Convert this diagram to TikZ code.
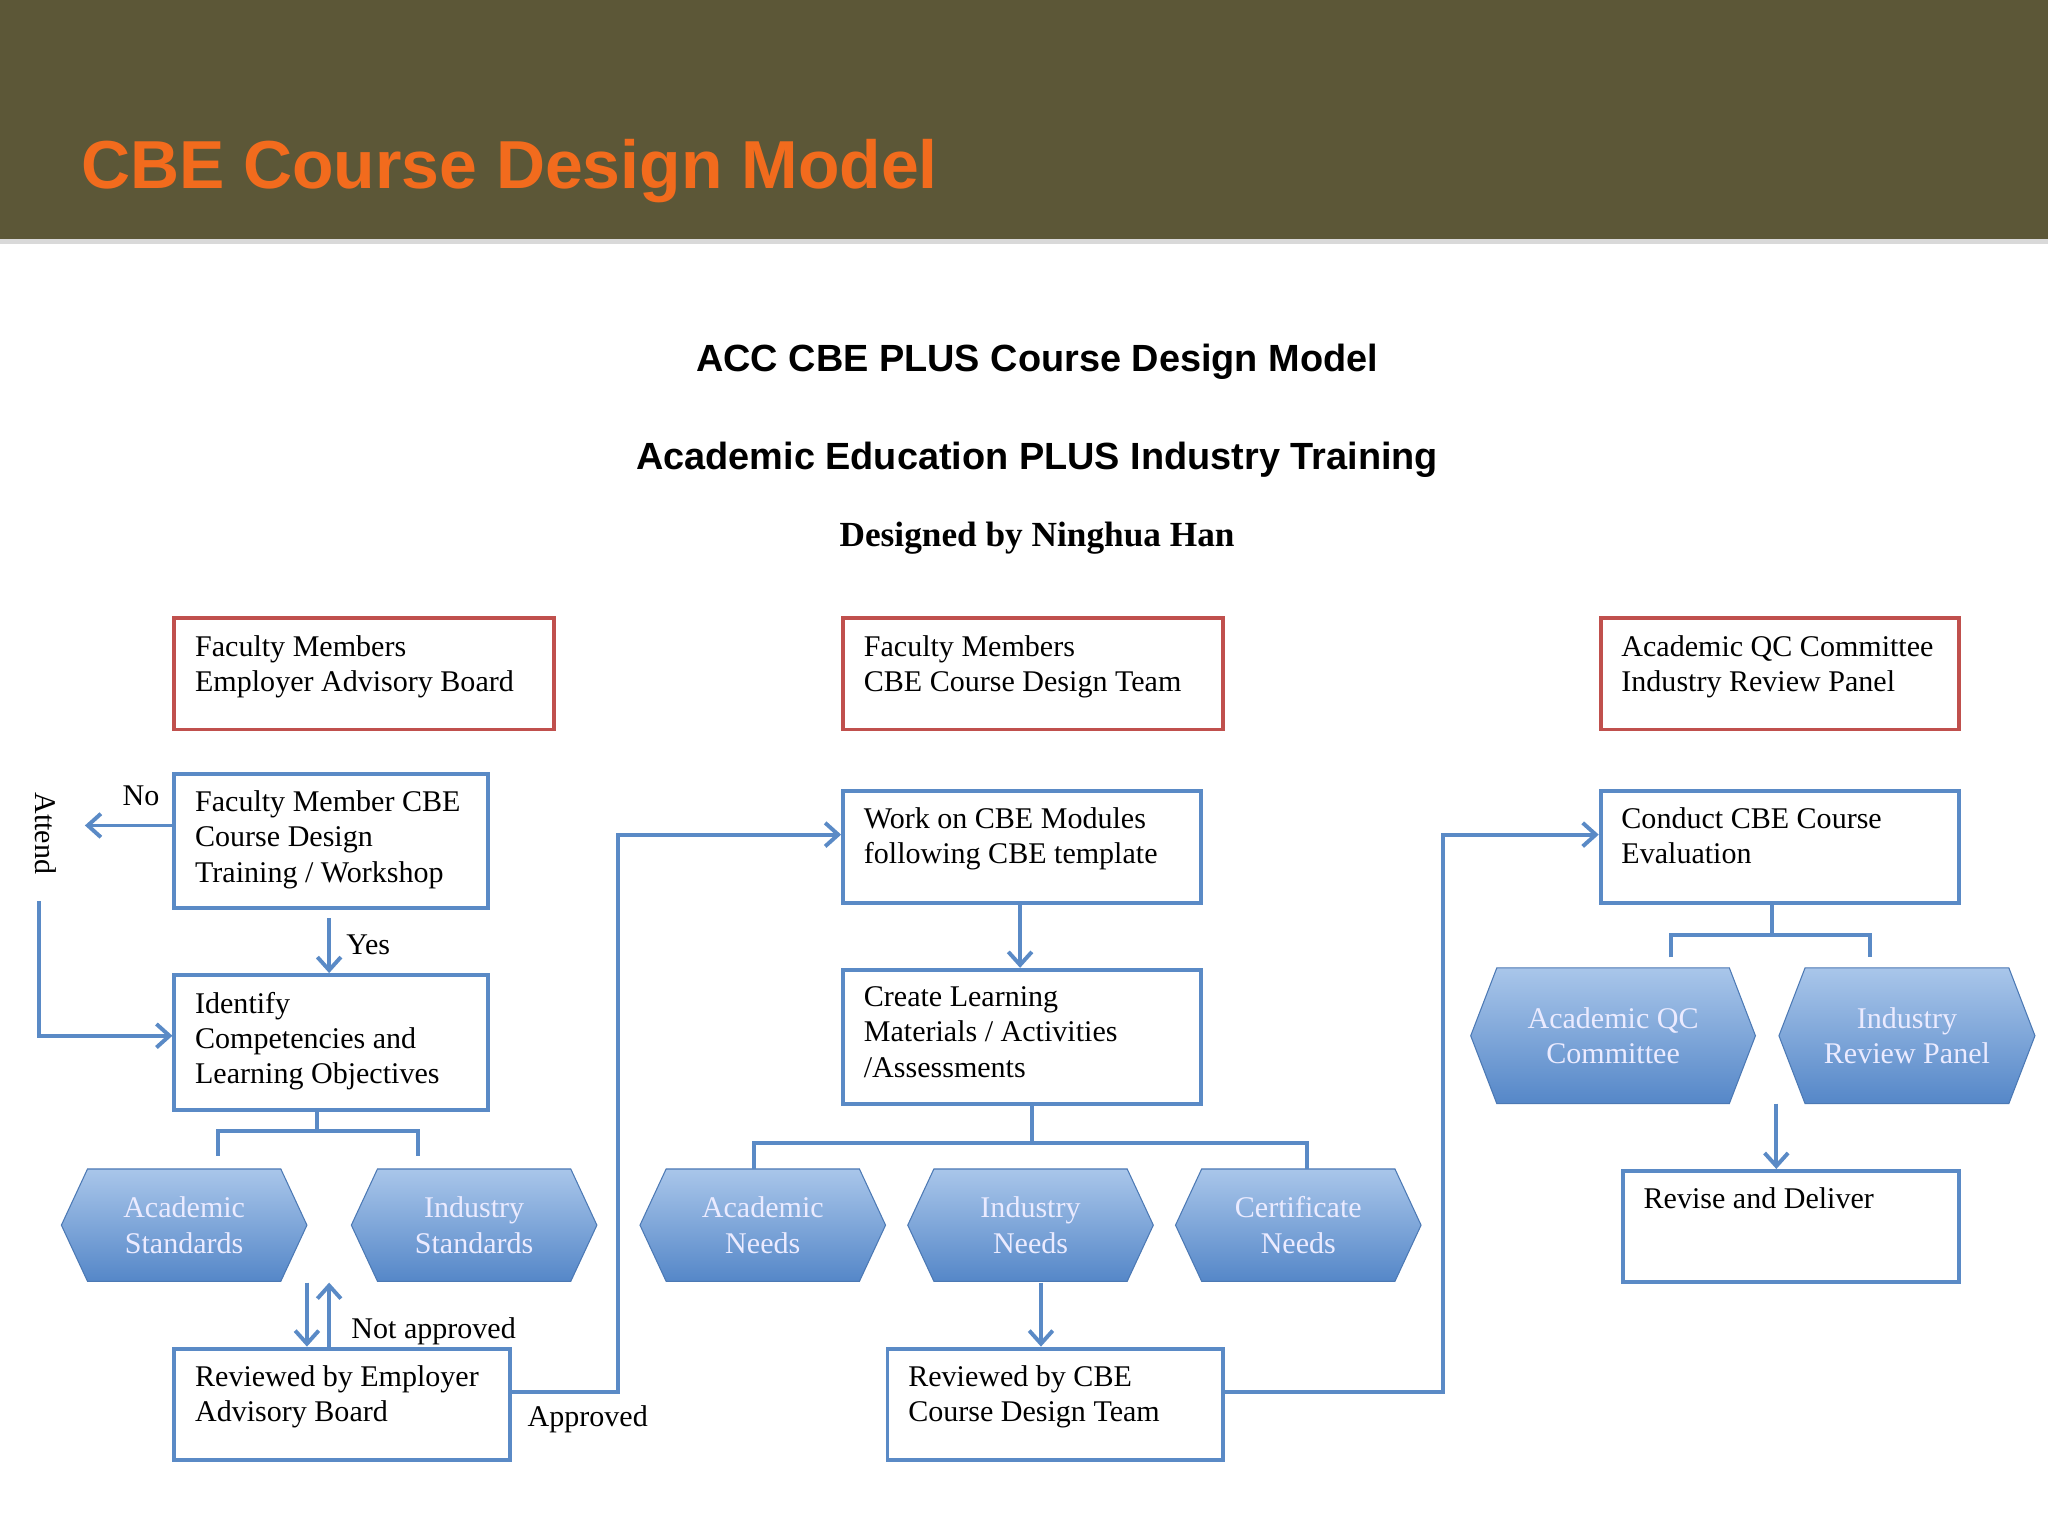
\documentclass[tikz,border=0pt]{standalone}
\usepackage{fontspec}
\setmainfont{Liberation Serif}
\setsansfont{Liberation Sans}
\usetikzlibrary{calc,arrows.meta}
\definecolor{hdr}{HTML}{5C5737}
\definecolor{ttl}{HTML}{F26B1D}
\definecolor{rbox}{HTML}{C0504D}
\definecolor{bbox}{HTML}{5A8AC6}
\definecolor{hexT}{HTML}{A9C6EA}
\definecolor{hexB}{HTML}{5587C8}
\tikzset{
  x=0.5pt,y=-0.5pt,
  txt/.style={font=\fontsize{11.5}{13.5}\selectfont,align=left,inner sep=0pt,anchor=north west},
  redbox/.style={draw=rbox,line width=1.5pt,anchor=north west,inner sep=0pt},
  bluebox/.style={draw=bbox,line width=1.5pt,anchor=north west,inner sep=0pt},
  conn/.style={draw=bbox,line width=1.5pt},
  arr/.style={conn,-{Straight Barb[length=5pt,width=9pt]}},
  hexfill/.style={top color=hexT,bottom color=hexB,draw=hexB!90!black,line width=0.4pt},
  hextxt/.style={font=\fontsize{11.5}{13.5}\selectfont,text=white!92!blue,align=center},
  lbl/.style={font=\fontsize{11.5}{13.5}\selectfont,inner sep=0pt}
}
\newcommand\hexn[6]{%
  \path[hexfill] ({#2-#4},#3) -- ({#2-#4+20},{#3-#5}) -- ({#2+#4-20},{#3-#5}) -- ({#2+#4},#3) -- ({#2+#4-20},{#3+#5}) -- ({#2-#4+20},{#3+#5}) -- cycle;
  \node[hextxt] (#1) at (#2,#3) {#6};}
\newcommand\boxn[7]{% style name x y w h text
  \node[#1,minimum width=#5*0.5pt,minimum height=#6*0.5pt] (#2) at (#3,#4) {};
  \node[txt] at ($(#2.north west)+(17,14)$) {#7};}
\begin{document}
\begin{tikzpicture}
\useasboundingbox (0,0) rectangle (1568,1176);
\fill[white] (0,0) rectangle (1568,1176);
\fill[hdr] (0,0) rectangle (1568,183);
\fill[black!15] (0,183) rectangle (1568,187);
\node[anchor=west,text=ttl,font=\sffamily\bfseries\fontsize{26}{30}\selectfont] (title) at (55,131) {CBE Course Design Model};
\node[font=\sffamily\bfseries\fontsize{14.5}{17}\selectfont] (t1) at (794,277) {ACC CBE PLUS Course Design Model};
\node[font=\sffamily\bfseries\fontsize{14.5}{17}\selectfont] (t2) at (794,352) {Academic Education PLUS Industry Training};
\node[font=\bfseries\fontsize{13.5}{16}\selectfont] (t3) at (794,412) {Designed by Ninghua Han};

\boxn{redbox}{a1}{132}{472}{291}{85}{Faculty Members\\Employer Advisory Board}
\boxn{redbox}{a2}{644}{472}{291}{85}{Faculty Members\\CBE Course Design Team}
\boxn{redbox}{a3}{1224}{472}{274}{85}{Academic QC Committee\\Industry Review Panel}

\boxn{bluebox}{b1}{132}{591}{240}{103}{Faculty Member CBE\\Course Design\\Training / Workshop}
\boxn{bluebox}{b2}{132}{745}{240}{103}{Identify\\Competencies and\\Learning Objectives}
\boxn{bluebox}{b3}{132}{1031}{257}{85}{Reviewed by Employer\\Advisory Board}
\boxn{bluebox}{c1}{644}{604}{274}{86}{Work on CBE Modules\\following CBE template}
\boxn{bluebox}{c2}{644}{741}{274}{103}{Create Learning\\Materials / Activities\\/Assessments}
\boxn{bluebox}{c3}{678}{1031}{257}{85}{Reviewed by CBE\\Course Design Team}
\boxn{bluebox}{d1}{1224}{604}{274}{86}{Conduct CBE Course\\Evaluation}
\boxn{bluebox}{d2}{1241}{895}{257}{85}{Revise and Deliver}

\hexn{h1}{141}{938}{94}{43}{Academic\\Standards}
\hexn{h2}{363}{938}{94}{43}{Industry\\Standards}
\hexn{h3}{584}{938}{94}{43}{Academic\\Needs}
\hexn{h4}{789}{938}{94}{43}{Industry\\Needs}
\hexn{h5}{994}{938}{94}{43}{Certificate\\Needs}
\hexn{h6}{1235}{793}{109}{52}{Academic QC\\Committee}
\hexn{h7}{1460}{793}{98}{52}{Industry\\Review Panel}

% left column
\coordinate (noend) at (65,632);
\draw[arr] (b1.west|-noend) -- (noend);
\node[lbl] (no) at (108,609) {No};
\node[lbl,rotate=-90] (att) at (35,638) {Attend};
\coordinate (att1) at (30,690);
\draw[arr] (att1) -- (30,793) -- (b2.west|-0,793);
\draw[arr] (252,703) -- (b2.north-|252,0);
\node[lbl] (yes) at (282,723) {Yes};
\draw[conn] (b2.south-|243,0) -- (243,866) (167,885) -- (167,866) -- (320,866) -- (320,885);
\draw[arr] (235,982) -- (b3.north-|235,0);
\draw[arr] (b3.north-|252,0) -- (252,982);
\node[lbl] (na) at (332,1019) {Not approved};
\draw[arr] (b3.east|-0,1066) -- (473,1066) -- (473,639) -- (c1.west|-0,639);
\node[lbl] (ap) at (450,1087) {Approved};
% middle
\draw[arr] (c1.south-|781,0) -- (c2.north-|781,0);
\draw[conn] (c2.south-|790,0) -- (790,875) (577,895) -- (577,875) -- (1001,875) -- (1001,895);
\draw[arr] (797,982) -- (c3.north-|797,0);
\draw[arr] (c3.east|-0,1066) -- (1105,1066) -- (1105,639) -- (d1.west|-0,639);
% right
\draw[conn] (d1.south-|1357,0) -- (1357,716) (1279,733) -- (1279,716) -- (1432,716) -- (1432,733);
\draw[arr] (1360,845) -- (d2.north-|1360,0);
\end{tikzpicture}
\end{document}
